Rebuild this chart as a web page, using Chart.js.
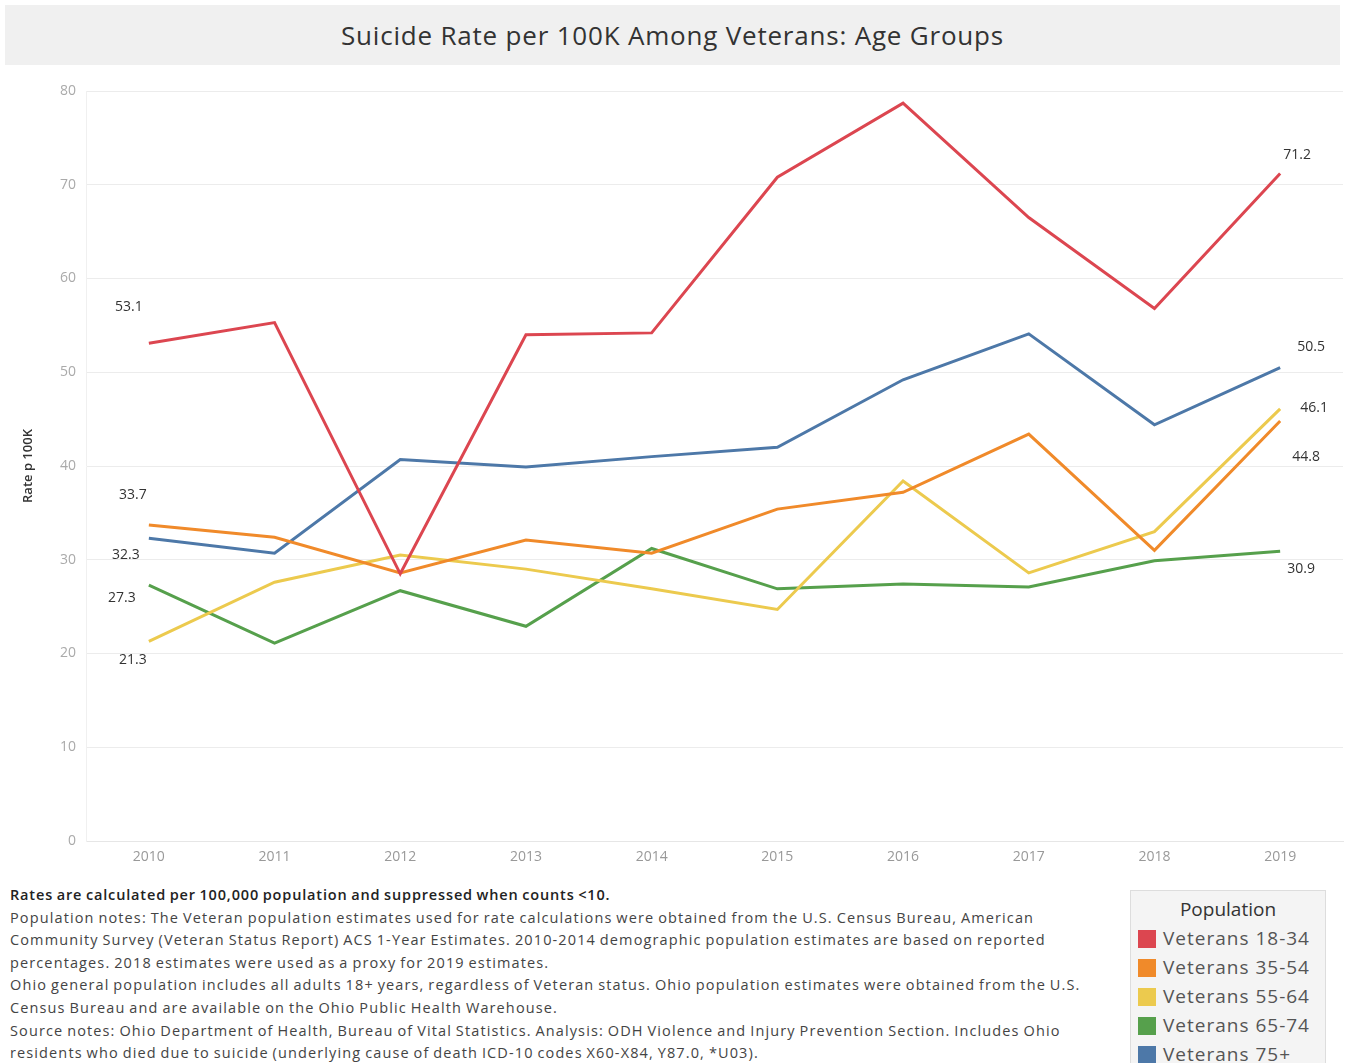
<!DOCTYPE html>
<html>
<head>
<meta charset="utf-8">
<script src="https://cdn.jsdelivr.net/npm/chart.js@4.4.0/dist/chart.umd.min.js"></script>
<style>
  body { margin: 0; background: #fff; font-family: "Open Sans", sans-serif; }
  #title {
    position: absolute; left: 5px; top: 5px; width: 1335px; height: 60px;
    background: #f0f0f0; color: #333; font-size: 26px; line-height: 60px; text-align: center;
    letter-spacing: 0.8px;
  }
  #wrap { position: absolute; left: 0; top: 70px; width: 1345px; height: 810px; }
  #notes {
    position: absolute; left: 10px; top: 884px; font-size: 14.5px; line-height: 22.6px;
    color: #444; white-space: nowrap; letter-spacing: 1.12px; word-spacing: -1px;
  }
  #notes b { color: #222; font-weight: 600; letter-spacing: 0.85px; }
  #legend {
    position: absolute; left: 1130px; top: 890px; width: 196px; height: 180px;
    background: #f4f4f4; border: 1px solid #ddd; box-sizing: border-box; color: #555;
  }
  #legend .head { text-align: center; font-size: 19px; color: #333; margin-top: 5px; margin-bottom: 2px; }
  #legend .item { height: 29px; line-height: 29px; font-size: 19px; padding-left: 7px; letter-spacing: 1px; }
  #legend .sw { display: inline-block; width: 18px; height: 18px; vertical-align: -3px; margin-right: 7px; }
</style>
</head>
<body>
<div id="title">Suicide Rate per 100K Among Veterans: Age Groups</div>
<div id="wrap"><canvas id="lineChart"></canvas></div>
<div id="notes">
<b>Rates are calculated per 100,000 population and suppressed when counts &lt;10.</b><br>
Population notes: The Veteran population estimates used for rate calculations were obtained from the U.S. Census Bureau, American<br>
Community Survey (Veteran Status Report) ACS 1-Year Estimates. 2010-2014 demographic population estimates are based on reported<br>
percentages. 2018 estimates were used as a proxy for 2019 estimates.<br>
Ohio general population includes all adults 18+ years, regardless of Veteran status. Ohio population estimates were obtained from the U.S.<br>
Census Bureau and are available on the Ohio Public Health Warehouse.<br>
Source notes: Ohio Department of Health, Bureau of Vital Statistics. Analysis: ODH Violence and Injury Prevention Section. Includes Ohio<br>
residents who died due to suicide (underlying cause of death ICD-10 codes X60-X84, Y87.0, *U03).
</div>
<div id="legend"><div class="head">Population</div></div>
<script>
const years = ['2010', '2011', '2012', '2013', '2014', '2015', '2016', '2017', '2018', '2019'];
const yTicks = [0, 10, 20, 30, 40, 50, 60, 70, 80];

const seriesNames = ['Veterans 18-34', 'Veterans 35-54', 'Veterans 55-64', 'Veterans 65-74', 'Veterans 75+'];
const vet1834 = [53.1, 55.3, 28.5, 54.0, 54.2, 70.8, 78.7, 66.5, 56.8, 71.2];
const vet3554 = [33.7, 32.4, 28.6, 32.1, 30.7, 35.4, 37.2, 43.4, 31.0, 44.8];
const vet5564 = [21.3, 27.6, 30.5, 29.0, 26.9, 24.7, 38.4, 28.6, 33.0, 46.1];
const vet6574 = [27.3, 21.1, 26.7, 22.9, 31.2, 26.9, 27.4, 27.1, 29.9, 30.9];
const vet75 = [32.3, 30.7, 40.7, 39.9, 41.0, 42.0, 49.2, 54.1, 44.4, 50.5];

const seriesColors = ['#dc4650', '#f08a2a', '#ecca4e', '#56a04c', '#4d78a8'];

// where the first / last value labels sit relative to their point (dx, dy in px)
const firstLabelShift = [[-20, -36], [-16, -30], [-16, 19], [-27, 13], [-23, 17]];
const lastLabelShift = [[17, -18], [26, 36], [34, -1], [21, 18], [31, -21]];

const allSeries = [vet1834, vet3554, vet5564, vet6574, vet75];

// legend box
const legendBox = document.getElementById('legend');
seriesNames.forEach(function(name, i) {
    let row = document.createElement('div');
    row.className = 'item';
    row.innerHTML = '<span class="sw" style="background:' + seriesColors[i] + '"></span>' + name;
    legendBox.appendChild(row);
});

// draws the value at the first and last point of each line
const endLabels = {
    id: 'endLabels',
    afterDatasetsDraw(chart) {
        const ctx = chart.ctx;
        ctx.save();
        ctx.font = '14px "Open Sans"';
        ctx.fillStyle = '#333';
        ctx.textAlign = 'center';
        ctx.textBaseline = 'middle';
        chart.data.datasets.forEach(function(ds, i) {
            const pts = chart.getDatasetMeta(i).data;
            const first = pts[0];
            const last = pts[pts.length - 1];
            ctx.fillText(ds.data[0].toFixed(1), first.x + firstLabelShift[i][0], first.y + firstLabelShift[i][1]);
            ctx.fillText(ds.data[ds.data.length - 1].toFixed(1), last.x + lastLabelShift[i][0], last.y + lastLabelShift[i][1]);
        });
        ctx.restore();
    }
};

const datasets = allSeries.map(function(values, i) {
    return {
        label: seriesNames[i],
        data: values,
        borderColor: seriesColors[i],
        backgroundColor: seriesColors[i],
        borderWidth: 3,
        pointRadius: 0,
        tension: 0
    };
});

const ctx = document.getElementById('lineChart').getContext('2d');
const myChart = new Chart(ctx, {
    type: 'line',
    data: { labels: years, datasets: datasets },
    options: {
        responsive: true,
        maintainAspectRatio: false,
        animation: false,
        layout: { padding: { top: 21, right: 2, left: 0, bottom: 0 } },
        plugins: {
            legend: { display: false },
            tooltip: { enabled: false }
        },
        scales: {
            x: {
                offset: true,
                grid: { display: false, drawTicks: false },
                border: { color: '#e6e6e6' },
                ticks: { color: '#999', font: { size: 14, family: 'Open Sans' }, padding: 8 },
                afterFit(scale) { scale.height = 39; }
            },
            y: {
                min: 0,
                max: 80,
                afterBuildTicks(scale) { scale.ticks = yTicks.map(v => ({ value: v })); },
                grid: { color: '#ececec', drawTicks: false },
                border: { display: true, color: '#f0f0f0' },
                ticks: { color: '#aaa', font: { size: 14, family: 'Open Sans' }, padding: 10 },
                title: {
                    display: true,
                    text: 'Rate p 100K',
                    color: '#333',
                    font: { size: 13, family: 'Open Sans', weight: '600' },
                    padding: { top: 20, bottom: 0 }
                },
                afterFit(scale) { scale.width = 86; }
            }
        }
    },
    plugins: [endLabels]
});
</script>
</body>
</html>
